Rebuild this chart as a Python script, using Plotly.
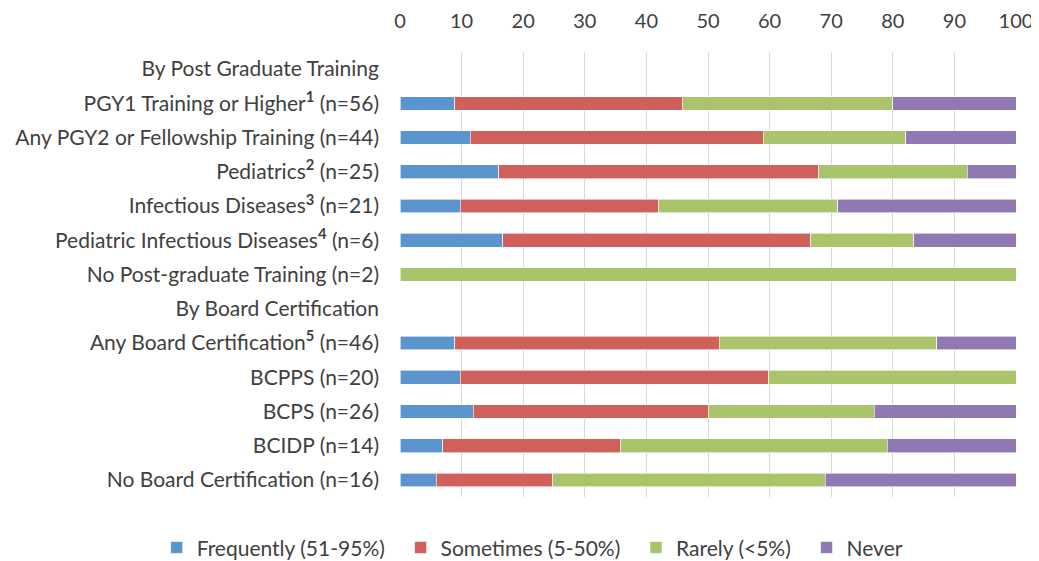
import plotly.graph_objects as go

categories = [
    "By Post Graduate Training",
    "PGY1 Training or Higher<sup><b>1</b></sup> (n=56)",
    "Any PGY2 or Fellowship Training (n=44)",
    "Pediatrics<sup><b>2</b></sup> (n=25)",
    "Infectious Diseases<sup><b>3</b></sup> (n=21)",
    "Pediatric Infectious Diseases<sup><b>4</b></sup> (n=6)",
    "No Post-graduate Training (n=2)",
    "By Board Certification",
    "Any Board Certification<sup><b>5</b></sup> (n=46)",
    "BCPPS (n=20)",
    "BCPS (n=26)",
    "BCIDP (n=14)",
    "No Board Certification (n=16)",
]

frequently = [None, 8.9, 11.4, 16.0, 9.8, 16.7, 0, None, 8.9, 9.8, 11.9, 6.9, 5.9]
sometimes = [None, 36.9, 47.6, 52.0, 32.2, 50.0, 0, None, 42.9, 50.1, 38.1, 28.9, 18.9]
rarely = [None, 34.2, 23.1, 24.1, 29.1, 16.7, 100, None, 35.3, 40.1, 27.0, 43.3, 44.2]
never = [None, 20.0, 17.9, 7.9, 28.9, 16.6, 0, None, 12.9, 0, 23.0, 20.9, 31.0]

series_names = ["Frequently (51-95%)", "Sometimes (5-50%)", "Rarely (<5%)", "Never"]
series_values = [frequently, sometimes, rarely, never]
series_colors = ["#5A95CE", "#CF605B", "#A9C46A", "#9079B2"]

x_ticks = list(range(0, 101, 10))

pad = "\u00a0" * 2
fig = go.Figure()
for i, (name, vals, color) in enumerate(zip(series_names, series_values, series_colors)):
    label = name + (pad if i < len(series_names) - 1 else "")
    fig.add_trace(go.Bar(
        y=categories, x=vals, name=label, orientation="h",
        marker=dict(color=color, line=dict(color="white", width=0.6)),
    ))

font_family = "Lato, 'Open Sans', sans-serif"
fig.update_layout(
    barmode="stack",
    bargap=0.6,
    width=1031, height=553,
    margin=dict(l=392, r=23, t=44, b=64, autoexpand=False),
    paper_bgcolor="white", plot_bgcolor="white",
    font=dict(family=font_family, size=21, color="#404040"),
    legend=dict(
        orientation="h", xref="paper", yref="paper",
        x=-0.395, xanchor="left", y=-0.068, yanchor="top",
        font=dict(size=21, color="#404040"),
        traceorder="normal", itemwidth=30,
    ),
    xaxis=dict(
        side="top", range=[0, 100], tickvals=x_ticks,
        showgrid=True, gridcolor="#D9D9D9", gridwidth=1,
        zeroline=False, showline=False, ticks="",
        ticklabelstandoff=19, automargin=False,
        tickfont=dict(size=20),
    ),
    yaxis=dict(
        autorange="reversed", showgrid=False, zeroline=False,
        showline=False, ticks="", ticklabelstandoff=20,
        automargin=False,
    ),
)

fig.write_html("out.html")
